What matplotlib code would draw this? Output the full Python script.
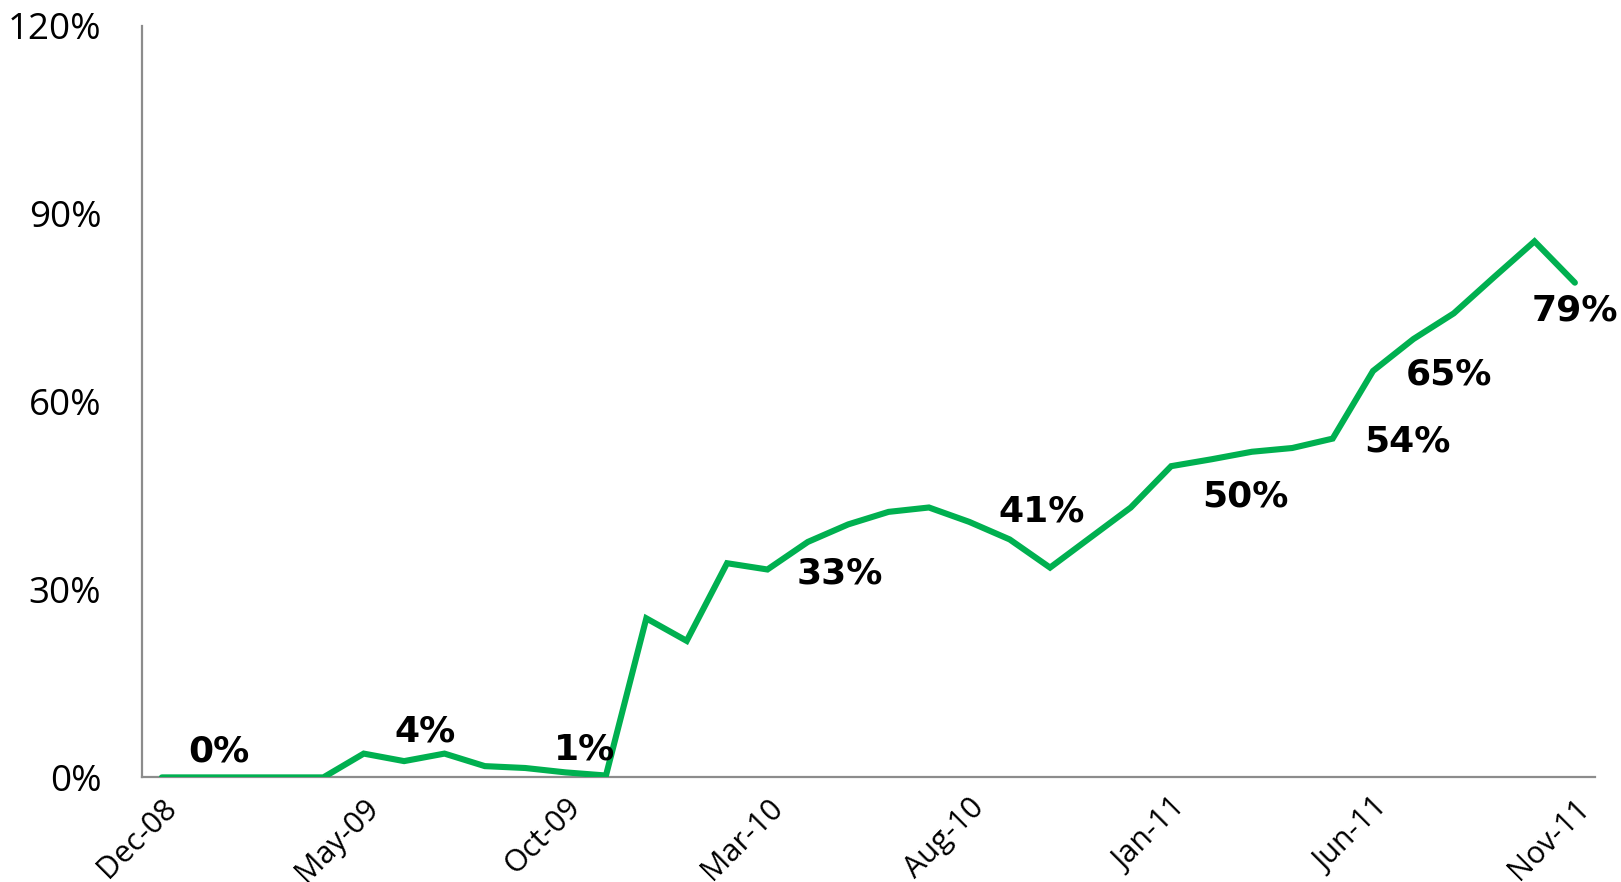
import matplotlib
matplotlib.use("Agg")
import matplotlib.pyplot as plt
from matplotlib.ticker import FuncFormatter

months = ["Dec-08", "Jan-09", "Feb-09", "Mar-09", "Apr-09", "May-09", "Jun-09", "Jul-09",
          "Aug-09", "Sep-09", "Oct-09", "Nov-09", "Dec-09", "Jan-10", "Feb-10", "Mar-10",
          "Apr-10", "May-10", "Jun-10", "Jul-10", "Aug-10", "Sep-10", "Oct-10", "Nov-10",
          "Dec-10", "Jan-11", "Feb-11", "Mar-11", "Apr-11", "May-11", "Jun-11", "Jul-11",
          "Aug-11", "Sep-11", "Oct-11", "Nov-11"]
values = [0, 0, 0, 0, 0, 3.8, 2.6, 3.8,
          1.8, 1.5, 0.8, 0.3, 25.4, 21.8, 34.2, 33.2,
          37.6, 40.4, 42.4, 43.1, 40.8, 38.0, 33.5, 38.3,
          43.1, 49.7, 50.8, 52.0, 52.6, 54.1, 64.9, 70.0,
          74.1, 79.9, 85.6, 79.0]
labeled_idx = [0, 5, 10, 15, 20, 25, 29, 30, 35]
yticks = [0, 30, 60, 90, 120]

# label placement (layout only): offsets from the point in (category, percent) units
label_offsets = [(1.42, 4.1), (1.51, 3.6), (0.48, 3.7), (1.8, -0.7), (1.8, 1.6),
                 (1.84, -4.8), (1.86, -0.5), (1.88, -0.5), (0.0, -4.4)]

fig = plt.figure(figsize=(16.21, 8.82), dpi=100)
ax = fig.add_axes([0.0874, 0.1186, 0.8966, 0.852])

x = list(range(len(months)))
ax.plot(x, values, color="#00B050", lw=4.4, solid_joinstyle="miter", solid_capstyle="round", zorder=3)

ax.set_xlim(-0.5, len(months) - 0.5)
ax.set_ylim(0, 120)
ax.set_yticks(yticks)
ax.yaxis.set_major_formatter(FuncFormatter(lambda v, p: f"{int(v)}%"))
ax.set_xticks(x[::5])
ax.set_xticklabels(months[::5], rotation=45, ha="right", va="top", rotation_mode="anchor",
                   fontfamily="Open Sans", fontsize=22)
for t in ax.get_yticklabels():
    t.set_fontfamily("Open Sans")
    t.set_fontsize(26.5)
ax.tick_params(axis="y", length=0, pad=29, colors="black")
ax.tick_params(axis="x", length=0, pad=11, colors="black")

for s in ["top", "right"]:
    ax.spines[s].set_visible(False)
for s in ["left", "bottom"]:
    ax.spines[s].set_color("#8C8C8C")
    ax.spines[s].set_linewidth(1.6)

for i, (dx, dy) in zip(labeled_idx, label_offsets):
    ax.text(i + dx, values[i] + dy, f"{round(values[i])}%", ha="center", va="center",
            fontfamily="DejaVu Sans", fontweight="bold", fontsize=26, color="black",
            clip_on=False, zorder=4)

fig.savefig("out.png", dpi=100, facecolor="white")
